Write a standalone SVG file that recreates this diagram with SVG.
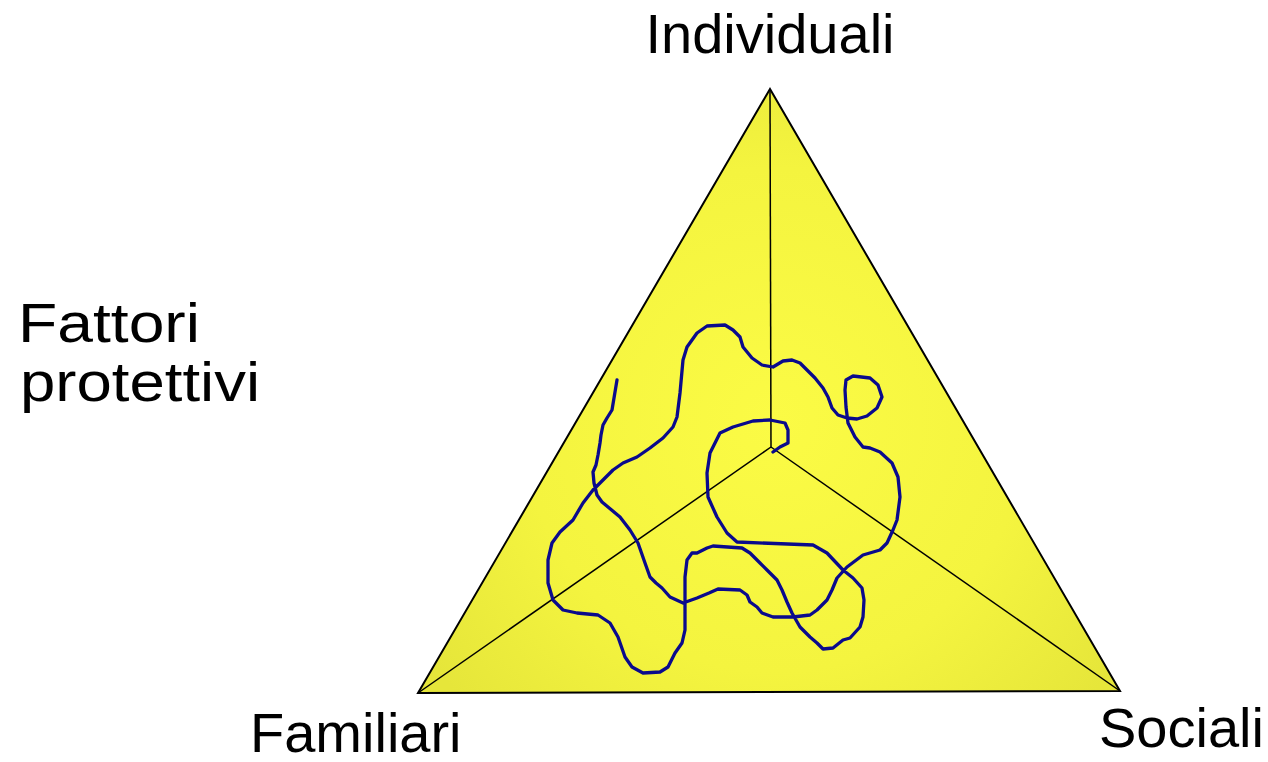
<svg xmlns="http://www.w3.org/2000/svg" width="1268" height="762" viewBox="0 0 1268 762">
<defs>
<radialGradient id="fill" gradientUnits="userSpaceOnUse" cx="775" cy="420" r="420">
<stop offset="0" stop-color="#fbfb45"/>
<stop offset="0.6" stop-color="#f4f43f"/>
<stop offset="1" stop-color="#e6e63a"/>
</radialGradient>
<style>
.lbl{font-family:"Liberation Sans",Arial,sans-serif;font-size:56px;fill:#000}
.edge{fill:none;stroke:#000;stroke-width:1.5}
.curve{fill:none;stroke:#0a0a8c;stroke-width:3.3;stroke-linejoin:round;stroke-linecap:round}
</style>
</defs>
<g id="triangle">
<polygon points="770,89 418,693 1120,691" fill="url(#fill)" stroke="#000" stroke-width="2"/>
</g>
<g id="connectors">
<line class="edge" x1="770" y1="89" x2="771" y2="447"/>
<line class="edge" x1="771" y1="447" x2="418" y2="693"/>
<line class="edge" x1="771" y1="447" x2="1120" y2="691"/>
</g>
<g id="scribble">
<polyline class="curve" points="617,380 615,392 612,410 607,418 603,425 601,435 600,443 598,455 596,465 593,472 594,483 597,495 602,502 608,507 620,517 630,530 638,543 645,563 650,577 656,583 662,588 670,597 683,603 697,598 709,593 718,589 740,590 747,595 750,602 757,607 762,613 773,617 793,617 810,615 817,610 827,600 832,590 837,578 847,567 863,555 880,550 887,543 893,530 897,520 900,497 898,477 892,463 880,452 870,448 863,447 855,437 848,423 846,407 845,390 846,380 853,376 870,378 878,385 882,397 877,408 867,416 857,419 847,418 838,415 832,408 828,397 823,388 815,378 807,370 800,363 792,360 783,361 778,364 773,367 762,365 752,358 743,347 740,337 733,330 725,325 707,326 697,333 687,347 683,360 680,393 677,417 673,427 663,438 650,448 637,457 623,463 613,470 603,480 593,490 583,503 573,520 560,532 552,543 548,560 548,583 553,600 563,610 577,613 598,615 610,623 618,637 625,657 632,667 643,673 660,672 668,667 675,653 682,643 685,630 685,603 685,577 687,560 692,553 697,553 707,548 713,546 742,548 750,553 760,563 767,570 777,580 782,590 787,602 792,613 800,627 810,637 817,643 823,649 833,648 843,640 850,638 860,627 863,617 864,600 862,588 853,578 843,570 827,553 813,545 737,542 727,533 717,517 708,497 707,473 710,453 720,433 733,427 753,421 770,420 785,423 788,430 788,443 780,447 773,452"/>
</g>
<g id="label-individuali"><text class="lbl" x="770" y="53" text-anchor="middle">Individuali</text></g>
<g id="label-familiari"><text class="lbl" x="250" y="752">Familiari</text></g>
<g id="label-sociali"><text class="lbl" x="1099" y="747">Sociali</text></g>
<g id="label-fattori">
<text class="lbl" x="18" y="342" textLength="182" lengthAdjust="spacingAndGlyphs">Fattori</text>
<text class="lbl" x="20" y="401" textLength="240" lengthAdjust="spacingAndGlyphs">protettivi</text>
</g>
</svg>
